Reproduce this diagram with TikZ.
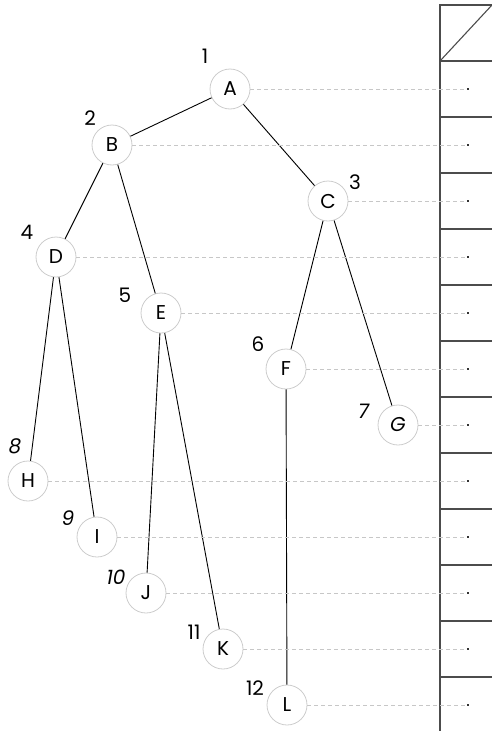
\documentclass[tikz,border=0pt]{standalone}
\usepackage{fontspec}
\setmainfont{Poppins}
\begin{document}
\begin{tikzpicture}[x=1pt,y=-1pt,
  tn/.style={circle,draw=black!20,line width=0.8pt,minimum size=40pt,inner sep=0pt,font=\fontsize{20}{24}\selectfont},
  lbl/.style={font=\fontsize{20}{24}\selectfont,inner sep=0pt},
  edge/.style={line width=0.9pt},
  guide/.style={draw=black!22,dashed,dash pattern=on 3.5pt off 3.5pt,line width=0.5pt},
  grid/.style={draw=black!70,line width=1.1pt},
  tick/.style={fill=black!80,inner sep=0pt,minimum size=1.2pt}
]
\useasboundingbox (0,0) rectangle (492,731);
% nodes
\node[tn] (A) at (230,89) {A};
\node[tn] (B) at (112,145) {B};
\node[tn] (C) at (328,201) {C};
\node[tn] (D) at (56,257) {D};
\node[tn] (E) at (161,313) {E};
\node[tn] (F) at (286,369) {F};
\node[tn] (G) at (398,425) {\textit{G}};
\node[tn] (H) at (28,481) {H};
\node[tn] (I) at (97,537) {I};
\node[tn] (J) at (146,593) {J};
\node[tn] (K) at (223,649) {K};
\node[tn] (L) at (287,705) {L};
% labels
\node[lbl] (l1) at (205,56) {1};
\node[lbl] (l2) at (90,118) {2};
\node[lbl] (l3) at (355,182) {3};
\node[lbl] (l4) at (27,232) {4};
\node[lbl] (l5) at (125,295) {5};
\node[lbl] (l6) at (258,344) {6};
\node[lbl] (l7) at (364,411) {\textit{7}};
\node[lbl] (l8) at (15,446) {\textit{8}};
\node[lbl] (l9) at (68,518) {\textit{9}};
\node[lbl] (l10) at (116,577) {\textit{10}};
\node[lbl] (l11) at (194,632) {11};
\node[lbl] (l12) at (255,688) {12};
% edges
\draw[edge] (A) -- (B);
\draw[edge] (A) -- (C);
\draw[edge] (B) -- (D);
\draw[edge] (B) -- (E);
\draw[edge] (C) -- (F);
\draw[edge] (C) -- (G);
\draw[edge] (D) -- (H);
\draw[edge] (D) -- (I);
\draw[edge] (E) -- (J);
\draw[edge] (E) -- (K);
\draw[edge] (F) -- (L);
% right column
\coordinate (ct) at (440,5);
\coordinate (cb) at (440,731);
\coordinate (tr) at (492,5);
\draw[grid] (cb) -- (ct) -- (tr);
\draw[grid] (440,61) -- (492,5);
\foreach \i in {0,...,11} {
  \draw[grid] (440,61+56*\i) -- (492,61+56*\i);
}
% guides
\foreach \n/\y in {A/89,B/145,C/201,D/257,E/313,F/369,G/425,H/481,I/537,J/593,K/649,L/705} {
  \coordinate (e\n) at (468,\y);
  \draw[guide] (\n.east) -- (e\n);
  \node[tick] at (e\n) {};
}
\end{tikzpicture}
\end{document}
